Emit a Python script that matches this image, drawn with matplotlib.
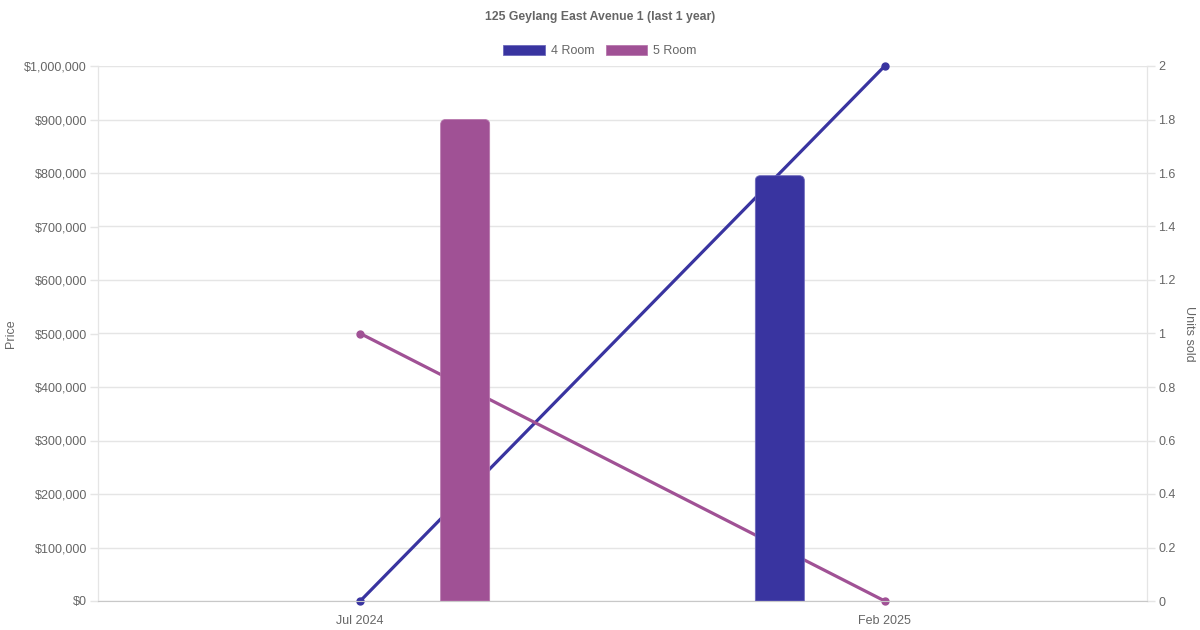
import matplotlib
matplotlib.use("Agg")
import matplotlib.pyplot as plt
from matplotlib.path import Path
from matplotlib.patches import PathPatch, Patch
from matplotlib.ticker import FuncFormatter, MultipleLocator

plt.rcParams['font.family'] = ['Liberation Sans', 'DejaVu Sans']

# data
months = ["Jul 2024", "Feb 2025"]
series = ["4 Room", "5 Room"]
colors = ["#3934a0", "#a05195"]
edge_colors = ["#6c68bb", "#b878ae"]
price_4room = [None, 795000]
price_5room = [900000, None]
units_4room = [0, 2]
units_5room = [1, 0]

prices = [price_4room, price_5room]
units = [units_4room, units_5room]

TXT = "#666666"
GRID = "#e5e5e5"

fig = plt.figure(figsize=(12, 6.3), dpi=100)
ax = fig.add_axes([98 / 1200, 1 - 601 / 630, (1147 - 98) / 1200, (601 - 66) / 630])
ax2 = ax.twinx()

xs = list(range(len(months)))
ax.set_xlim(-0.5, len(months) - 0.5)
ax.set_ylim(0, 1000000)
ax2.set_ylim(0, 2)

# lines on right axis (drawn below the bars)
for i in range(len(series)):
    ax2.plot(xs, units[i], color=colors[i], lw=2.3, marker="o", ms=5,
             solid_capstyle="round", zorder=3, clip_on=False)

# bars on left axis, top corners rounded
ax.set_zorder(ax2.get_zorder() + 1)
ax.patch.set_visible(False)

bw = 49 / 524.5
offs = [-0.2, 0.2]
px_x = (1147 - 98) / 2.0          # px per x unit
px_y = (601 - 66) / 1000000.0     # px per y unit
r = 5
for i in range(len(series)):
    for j, v in enumerate(prices[i]):
        if v is None:
            continue
        x0 = xs[j] + offs[i] - bw / 2
        x1 = x0 + bw
        y0, y1 = 0, v
        rx, ry = r / px_x, r / px_y
        verts = [(x0, y0), (x0, y1 - ry), (x0, y1), (x0 + rx, y1),
                 (x1 - rx, y1), (x1, y1), (x1, y1 - ry), (x1, y0), (x0, y0)]
        codes = [Path.MOVETO, Path.LINETO, Path.CURVE3, Path.CURVE3,
                 Path.LINETO, Path.CURVE3, Path.CURVE3, Path.LINETO, Path.CLOSEPOLY]
        ax.add_patch(PathPatch(Path(verts, codes), facecolor=colors[i],
                               edgecolor=edge_colors[i], lw=0.6, zorder=4))

# grid on the bottom axis layer
ax2.yaxis.set_major_locator(MultipleLocator(0.2))
ax2.grid(True, axis="y", color=GRID, lw=1)
ax2.set_axisbelow(True)
ax.yaxis.set_major_locator(MultipleLocator(100000))

ax.yaxis.set_major_formatter(FuncFormatter(lambda v, p: "${:,.0f}".format(v)))
ax2.yaxis.set_major_formatter(FuncFormatter(lambda v, p: "{:g}".format(round(v, 1))))

ax.set_xticks(xs)
ax.set_xticklabels(months)
ax.tick_params(axis="x", length=0, pad=10, labelsize=9, colors=TXT)
ax.tick_params(axis="y", length=6, width=1, color=GRID, pad=2, labelsize=9, labelcolor=TXT)
ax2.tick_params(axis="y", length=6, width=1, color=GRID, pad=2, labelsize=9, labelcolor=TXT)

for a in (ax, ax2):
    for s in a.spines.values():
        s.set_color(GRID)
    a.spines["top"].set_visible(False)
ax.spines["bottom"].set_color("#c8c8c8")

fig.text(11 / 1200, 1 - 334 / 630, "Price", rotation=90, ha="center", va="center",
         fontsize=9, color=TXT)
fig.text(1189 / 1200, 1 - 334 / 630, "Units sold", rotation=270, ha="center", va="center",
         fontsize=9, color=TXT)

fig.text(0.5, 1 - 17 / 630, "125 Geylang East Avenue 1 (last 1 year)", ha="center",
         va="center", fontsize=8.8, fontweight="bold", color=TXT)

handles = [Patch(facecolor=colors[i], edgecolor=edge_colors[i], lw=0.6) for i in range(len(series))]
leg = fig.legend(handles, series, loc="center", bbox_to_anchor=(0.5, 1 - 51 / 630),
                 ncol=2, frameon=False, fontsize=9, handlelength=3.3, handleheight=0.9,
                 handletextpad=0.5, columnspacing=0.9, labelcolor=TXT)

fig.savefig("out.png", dpi=100)
